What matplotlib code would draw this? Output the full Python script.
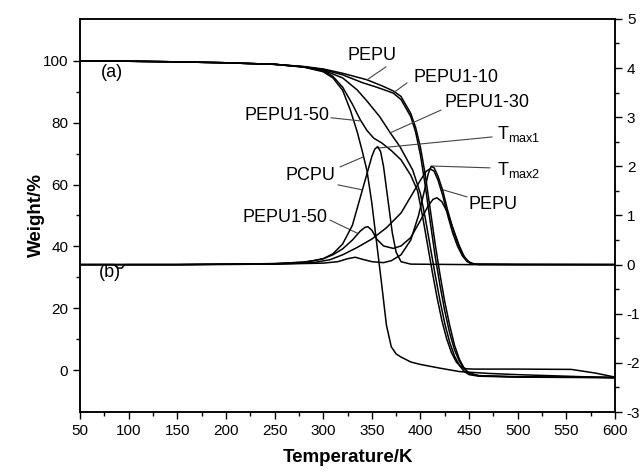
import matplotlib
matplotlib.use("Agg")
import matplotlib.pyplot as plt
from matplotlib.ticker import MultipleLocator, FixedLocator

plt.rcParams['font.family'] = ['Liberation Sans', 'DejaVu Sans']
plt.rcParams['mathtext.fontset'] = 'custom'
plt.rcParams['mathtext.rm'] = 'Liberation Sans'
plt.rcParams['mathtext.default'] = 'regular'
plt.rcParams['axes.unicode_minus'] = False

# TGA curves (weight %, left axis)
t_pepu = [50, 100, 150, 200, 250, 280, 300, 320, 345, 360, 372, 380, 390, 395, 400, 405, 410, 415, 420, 425, 430, 435, 440, 445, 450, 460, 500, 550, 600]
w_pepu = [100, 99.9, 99.7, 99.4, 98.9, 98.2, 97.4, 96.0, 93.9, 92.0, 90.3, 88.5, 83.0, 78.5, 72.0, 63.0, 52.0, 41.0, 31.0, 22.0, 14.5, 8.0, 3.5, 0.5, -1.0, -1.9, -2.2, -2.3, -2.4]

t_pepu10 = [50, 100, 150, 200, 250, 280, 300, 320, 340, 355, 372, 380, 390, 395, 400, 405, 410, 415, 420, 425, 430, 435, 440, 445, 450, 460, 500, 550, 600]
w_pepu10 = [100, 99.9, 99.7, 99.4, 98.9, 98.1, 97.2, 95.5, 93.0, 91.5, 89.6, 87.5, 82.0, 77.0, 69.5, 59.5, 48.0, 37.0, 27.5, 19.0, 12.0, 6.5, 2.8, 0.3, -1.0, -1.8, -2.2, -2.3, -2.4]

t_pepu30 = [50, 100, 150, 200, 250, 280, 300, 320, 335, 345, 358, 369, 379, 392, 400, 405, 410, 415, 420, 425, 430, 435, 440, 445, 450, 460, 500, 550, 600]
w_pepu30 = [100, 99.9, 99.7, 99.4, 98.9, 98.1, 97.0, 94.5, 90.6, 87.0, 82.0, 76.7, 72.2, 64.7, 57.0, 49.0, 40.0, 31.0, 22.5, 15.0, 9.0, 4.5, 1.5, -0.5, -1.5, -2.0, -2.3, -2.4, -2.5]

t_pepu50 = [50, 100, 150, 200, 250, 280, 300, 310, 320, 330, 338, 345, 352, 360, 370, 380, 390, 397, 402, 407, 412, 417, 422, 427, 432, 437, 442, 447, 455, 470, 500, 555, 580, 600]
w_pepu50 = [100, 99.9, 99.7, 99.4, 98.9, 98.0, 96.8, 95.0, 91.5, 86.0, 81.0, 77.5, 75.0, 73.5, 71.0, 68.0, 63.0, 58.0, 50.0, 41.0, 32.0, 23.5, 16.0, 10.0, 5.5, 2.5, 1.0, 0.4, 0.3, 0.3, 0.3, 0.2, -1.0, -2.3]

t_pcpu = [50, 100, 150, 200, 250, 280, 300, 310, 320, 328, 335, 340, 345, 350, 355, 360, 365, 370, 375, 380, 390, 400, 420, 440, 470, 500, 550, 600]
w_pcpu = [100, 99.9, 99.7, 99.4, 98.9, 98.0, 96.5, 94.5, 90.5, 84.0, 77.0, 71.0, 64.5, 54.0, 41.0, 28.0, 14.5, 7.5, 5.2, 4.2, 2.6, 1.8, 0.6, -0.5, -1.1, -1.5, -2.0, -2.5]

# DTG curves (right axis)
dt_pcpu = [50, 150, 250, 280, 290, 300, 310, 320, 330, 340, 345, 350, 353, 356, 359, 362, 365, 368, 371, 375, 380, 390, 450, 600]
d_pcpu = [0, 0, 0.02, 0.05, 0.08, 0.12, 0.22, 0.42, 0.8, 1.5, 1.85, 2.2, 2.35, 2.4, 2.3, 2.0, 1.55, 1.1, 0.65, 0.25, 0.06, 0.01, 0, 0]

dt_pepu50 = [50, 150, 250, 280, 290, 300, 310, 320, 330, 338, 343, 346, 350, 355, 362, 372, 380, 390, 400, 408, 413, 417, 422, 428, 435, 440, 445, 450, 456, 500, 600]
d_pepu50 = [0, 0, 0.02, 0.05, 0.08, 0.12, 0.2, 0.32, 0.5, 0.68, 0.76, 0.77, 0.7, 0.52, 0.38, 0.33, 0.38, 0.55, 0.9, 1.2, 1.33, 1.36, 1.28, 1.05, 0.65, 0.38, 0.16, 0.05, 0.01, 0, 0]

dt_pepu = [50, 85, 89, 93, 96, 150, 250, 300, 315, 325, 333, 340, 350, 362, 370, 380, 390, 398, 404, 408, 411, 414, 418, 423, 428, 433, 438, 443, 448, 453, 460, 600]
d_pepu = [0, 0, -0.07, -0.07, 0, 0, 0.01, 0.03, 0.06, 0.12, 0.15, 0.11, 0.06, 0.04, 0.08, 0.2, 0.5, 1.0, 1.5, 1.85, 2.0, 1.97, 1.8, 1.5, 1.1, 0.75, 0.45, 0.22, 0.08, 0.02, 0, 0]

dt_pepu30 = [50, 150, 250, 290, 307, 320, 335, 350, 365, 380, 392, 400, 406, 410, 414, 418, 423, 428, 433, 438, 443, 448, 453, 600]
d_pepu30 = [0, 0, 0.01, 0.04, 0.1, 0.2, 0.35, 0.52, 0.75, 1.05, 1.45, 1.72, 1.9, 1.95, 1.9, 1.72, 1.4, 1.0, 0.65, 0.38, 0.18, 0.06, 0.01, 0]

fig = plt.figure(figsize=(6.4, 4.72), dpi=100)
ax = fig.add_axes([0.125, 0.127, 0.836, 0.833])
ax2 = ax.twinx()

lw = 1.1
for t, w in [(t_pepu, w_pepu), (t_pepu10, w_pepu10), (t_pepu30, w_pepu30),
             (t_pepu50, w_pepu50), (t_pcpu, w_pcpu)]:
    ax.plot(t, w, color='black', lw=lw)
for t, d in [(dt_pcpu, d_pcpu), (dt_pepu50, d_pepu50), (dt_pepu, d_pepu), (dt_pepu30, d_pepu30)]:
    ax2.plot(t, d, color='black', lw=lw)

ax.set_xlim(50, 600)
ax.set_ylim(-13.6, 113.6)
ax2.set_ylim(-3, 5)

ax.xaxis.set_major_locator(MultipleLocator(50))
ax.xaxis.set_minor_locator(MultipleLocator(25))
ax.yaxis.set_major_locator(MultipleLocator(20))
ax.yaxis.set_minor_locator(FixedLocator([10, 30, 50, 70, 90]))
ax2.yaxis.set_major_locator(MultipleLocator(1))
ax2.yaxis.set_minor_locator(MultipleLocator(0.5))

for a in (ax, ax2):
    a.tick_params(which='major', direction='out', length=5, width=1, labelsize=11)
    a.tick_params(which='minor', direction='out', length=3, width=1)
    for s in a.spines.values():
        s.set_linewidth(1.1)
ax.tick_params(top=False, right=False)

ax.set_xlabel('Temperature/K', fontsize=13.5, fontweight='bold', labelpad=8)
ax.set_ylabel('Weight/%', fontsize=13.5, fontweight='bold', labelpad=-2)

fs = 13
lead = dict(arrowstyle='-', color='#444444', lw=0.8, shrinkA=0, shrinkB=0)

def note(xy0, xy1):
    ax.annotate('', xy=xy1, xytext=xy0, arrowprops=lead)

ax.text(350.2, 101.9, 'PEPU', fontsize=fs, ha='center', va='center')
note((364.6, 98.1), (345.1, 93.9))
ax.text(436.6, 94.5, 'PEPU1-10', fontsize=fs, ha='center', va='center')
note((386.2, 92.9), (371.8, 89.6))
ax.text(468.4, 86.7, 'PEPU1-30', fontsize=fs, ha='center', va='center')
note((421.1, 84.1), (368.7, 76.7))
ax.text(478.7, 76.4, r'T$_{max1}$', fontsize=fs, ha='left', va='center')
note((473.6, 75.4), (356.4, 71.8))
ax.text(478.7, 64.7, r'T$_{max2}$', fontsize=fs, ha='left', va='center')
note((471.5, 65.4), (411.9, 66.0))
ax.text(474.6, 53.7, 'PEPU', fontsize=fs, ha='center', va='center')
note((447.9, 56.0), (423.2, 58.3))
ax.text(262.8, 82.5, 'PEPU1-50', fontsize=fs, ha='center', va='center')
note((308.0, 81.6), (337.9, 80.6))
ax.text(286.5, 62.8, 'PCPU', fontsize=fs, ha='center', va='center')
note((317.3, 65.7), (340.9, 68.9))
note((315.2, 59.9), (339.9, 58.3))
ax.text(260.8, 49.2, 'PEPU1-50', fontsize=fs, ha='center', va='center')
note((307.0, 48.5), (334.8, 44.3))
ax.text(82.9, 96.4, '(a)', fontsize=fs, ha='center', va='center')
ax.text(80.8, 31.4, '(b)', fontsize=fs, ha='center', va='center')

fig.savefig('out.png', dpi=100)
